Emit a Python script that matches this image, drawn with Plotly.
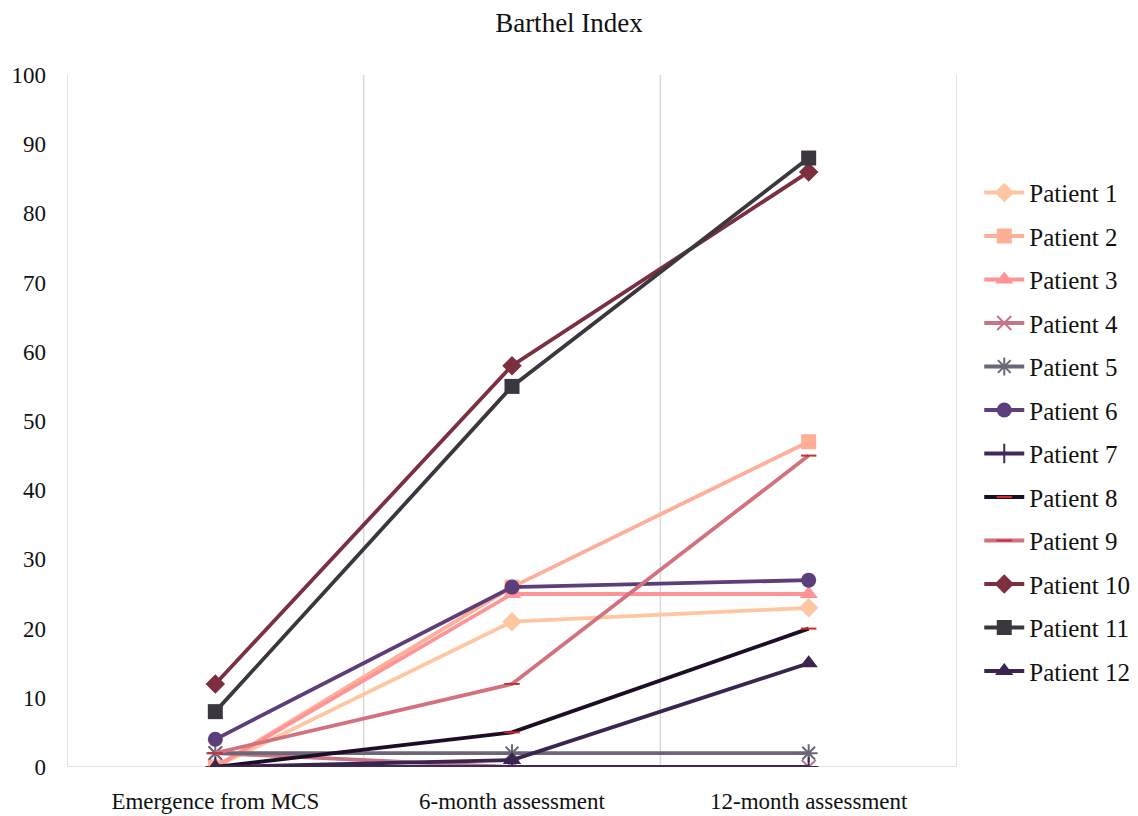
import plotly.graph_objects as go

# Assessment time points
stages = ["Emergence from MCS", "6-month assessment", "12-month assessment"]

# Barthel Index per patient at each time point
patient_1 = [0, 21, 23]
patient_2 = [0, 26, 47]
patient_3 = [0, 25, 25]
patient_4 = [2, 0, 0]
patient_5 = [2, 2, 2]
patient_6 = [4, 26, 27]
patient_7 = [0, 0, 0]
patient_8 = [0, 5, 20]
patient_9 = [2, 12, 45]
patient_10 = [12, 58, 86]
patient_11 = [8, 55, 88]
patient_12 = [0, 1, 15]

y_ticks = [0, 10, 20, 30, 40, 50, 60, 70, 80, 90, 100]

series = [
    ("Patient 1", patient_1, "#FFC6A2", "diamond", None),
    ("Patient 2", patient_2, "#FFAE98", "square", None),
    ("Patient 3", patient_3, "#FF9497", "triangle-up", None),
    ("Patient 4", patient_4, "#C57684", "x-thin-open", None),
    ("Patient 5", patient_5, "#6C6677", "asterisk-open", None),
    ("Patient 6", patient_6, "#5C3F7A", "circle", None),
    ("Patient 7", patient_7, "#40295A", "cross-thin-open", None),
    ("Patient 8", patient_8, "#1E0D26", "line-ew-open", "#D42A2A"),
    ("Patient 9", patient_9, "#D4717F", "line-ew-open", "#C8303A"),
    ("Patient 10", patient_10, "#7C2F40", "diamond", None),
    ("Patient 11", patient_11, "#3C373F", "square", None),
    ("Patient 12", patient_12, "#3A2450", "triangle-up", None),
]

marker_sizes = {
    "diamond": 15, "square": 15, "triangle-up": 16, "circle": 15,
    "x-thin-open": 14, "asterisk-open": 15, "cross-thin-open": 14,
    "line-ew-open": 11,
}

x_pos = list(range(len(stages)))

fig = go.Figure()
for i, (name, vals, color, symbol, mcolor) in enumerate(series):
    open_sym = symbol.endswith("-open")
    fig.add_trace(go.Scatter(
        x=x_pos, y=vals, name=name, mode="lines+markers",
        legendgroup=f"g{i}",
        line=dict(color=color, width=3.8),
        marker=dict(
            symbol=symbol, size=marker_sizes[symbol],
            color=mcolor or color,
            line=dict(color=mcolor or color, width=2 if open_sym else 0),
        ),
    ))

# Vertical separators between stages and the baseline
for xv in [-0.5, 0.5, 1.5, 2.5]:
    fig.add_shape(type="line", xref="x", yref="y", x0=xv, x1=xv, y0=0, y1=100,
                  line=dict(color="#D9D9D9", width=1.5), layer="below")
fig.add_shape(type="line", xref="x", yref="y", x0=-0.5, x1=2.5, y0=0, y1=0,
              line=dict(color="#D9D9D9", width=1.5), layer="below")

serif = "Liberation Serif, DejaVu Serif, serif"

fig.update_layout(
    width=1138, height=816,
    paper_bgcolor="white", plot_bgcolor="white",
    margin=dict(l=67, r=181, t=75, b=49, autoexpand=False),
    title=dict(text="Barthel Index", x=0.5, xref="container", xanchor="center",
               y=0.972, yref="container", yanchor="middle",
               font=dict(family=serif, size=27, color="#111111")),
    font=dict(family=serif, size=23, color="#111111"),
    xaxis=dict(
        range=[-0.5, 2.5], tickmode="array", tickvals=x_pos, ticktext=stages,
        showgrid=False, zeroline=False, showline=False, ticks="",
        ticklabelstandoff=18,
        tickfont=dict(family=serif, size=23, color="#111111"),
    ),
    yaxis=dict(
        range=[0, 100], tickmode="array", tickvals=y_ticks,
        showgrid=False, zeroline=False, showline=False, ticks="",
        ticklabelstandoff=20,
        tickfont=dict(family=serif, size=23, color="#111111"),
    ),
    legend=dict(
        xref="container", x=0.8605, xanchor="left",
        yref="container", y=0.792, yanchor="top",
        maxheight=700,
        font=dict(family=serif, size=25, color="#111111"),
        tracegroupgap=8, itemwidth=40, bgcolor="rgba(0,0,0,0)",
    ),
    showlegend=True,
)

fig.write_html("out.html")
